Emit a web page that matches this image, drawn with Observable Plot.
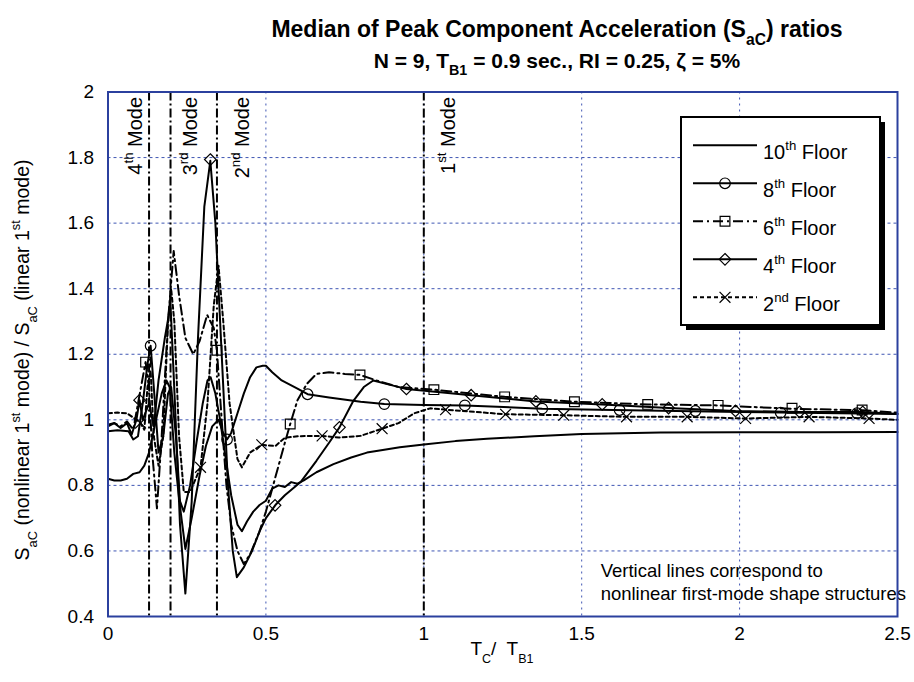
<!DOCTYPE html>
<html>
<head>
<meta charset="utf-8">
<script src="https://cdn.jsdelivr.net/npm/d3@7"></script>
<script src="https://cdn.jsdelivr.net/npm/@observablehq/plot@0.6"></script>
<style>
  html,body{margin:0;padding:0;background:#fff;}
  #wrap{position:relative;width:914px;height:682px;font-family:Arial,"Liberation Sans",Helvetica,sans-serif;color:#000;overflow:hidden;}
  .ttl{position:absolute;left:157px;width:800px;text-align:center;font-weight:bold;white-space:nowrap;}
  .ttl sub{font-size:68%;vertical-align:-0.5em;line-height:0;}
  #chart{position:absolute;left:0;top:0;}
</style>
</head>
<body>
<div id="wrap">
  <div id="chart"></div>
  <div class="ttl" style="top:15px;font-size:23px;line-height:28px;">Median of Peak Component Acceleration (S<sub>aC</sub>) ratios</div>
  <div class="ttl" style="top:48px;font-size:21px;line-height:26px;">N = 9, T<sub>B1</sub> = 0.9 sec., RI = 0.25, &zeta; = 5%</div>
</div>
<script>
// ---------- data ----------
const xTicks = [0, 0.5, 1, 1.5, 2, 2.5];
const yTicks = [0.4, 0.6, 0.8, 1, 1.2, 1.4, 1.6, 1.8, 2];

const floorLegend = ["10^{th} Floor", "8^{th} Floor", "6^{th} Floor", "4^{th} Floor", "2^{nd} Floor"];
const floorDash = [null, null, "10,4,2,4", null, "4,3"];
const floorSymbol = [null, "circle", "square2", "diamond2", "times"];
const floorSymbolR = [0, 5.3, 6.2, 5.2, 5];

const floor10 = [[0,0.82],[0.02,0.815],[0.04,0.815],[0.06,0.82],[0.08,0.835],[0.1,0.84],[0.115,0.86],[0.13,0.9],[0.15,0.99],[0.17,1.08],[0.185,1.12],[0.195,1.1],[0.21,0.9],[0.225,0.76],[0.24,0.72],[0.26,0.8],[0.28,0.93],[0.3,1.05],[0.315,1.12],[0.325,1.13],[0.34,1.08],[0.355,1.0],[0.37,0.9],[0.39,0.77],[0.41,0.68],[0.424,0.66],[0.44,0.69],[0.46,0.72],[0.48,0.74],[0.5,0.753],[0.52,0.79],[0.54,0.8],[0.56,0.795],[0.58,0.81],[0.6,0.805],[0.62,0.815],[0.66,0.84],[0.714,0.865],[0.77,0.885],[0.82,0.9],[0.87,0.908],[0.924,0.916],[1.0,0.925],[1.1,0.935],[1.2,0.942],[1.35,0.95],[1.5,0.957],[1.75,0.961],[2.0,0.962],[2.25,0.962],[2.5,0.963]];

const floor8 = [[0,0.965],[0.03,0.968],[0.065,0.965],[0.08,0.94],[0.095,0.95],[0.11,1.05],[0.125,1.17],[0.135,1.226],[0.145,1.1],[0.16,0.9],[0.175,0.95],[0.19,1.08],[0.2,1.1],[0.215,0.95],[0.23,0.72],[0.245,0.606],[0.265,0.7],[0.29,0.83],[0.31,0.92],[0.33,0.98],[0.35,1.0],[0.365,0.96],[0.377,0.94],[0.39,0.96],[0.41,1.02],[0.43,1.08],[0.45,1.13],[0.47,1.16],[0.49,1.165],[0.5,1.165],[0.52,1.145],[0.55,1.12],[0.6,1.095],[0.632,1.078],[0.7,1.068],[0.8,1.055],[0.875,1.048],[1.0,1.045],[1.13,1.044],[1.375,1.034],[1.6,1.03],[2.0,1.024],[2.5,1.018]];
const marks8 = [[0.135,1.226],[0.377,0.94],[0.632,1.078],[0.875,1.048],[1.13,1.044],[1.375,1.034],[1.62,1.03],[1.86,1.027],[2.13,1.022],[2.372,1.02]];

const floor6 = [[0,0.98],[0.02,0.99],[0.04,0.98],[0.06,0.995],[0.08,0.97],[0.095,1.05],[0.119,1.176],[0.13,1.1],[0.14,0.9],[0.155,0.73],[0.17,0.95],[0.19,1.3],[0.208,1.515],[0.225,1.38],[0.245,1.25],[0.27,1.2],[0.29,1.24],[0.314,1.32],[0.335,1.28],[0.345,1.21],[0.36,1.0],[0.375,0.8],[0.39,0.68],[0.41,0.6],[0.43,0.56],[0.45,0.59],[0.48,0.66],[0.5,0.72],[0.52,0.79],[0.54,0.86],[0.56,0.93],[0.577,0.987],[0.6,1.06],[0.63,1.11],[0.66,1.14],[0.7,1.145],[0.75,1.14],[0.798,1.137],[0.85,1.12],[0.92,1.1],[1.03,1.092],[1.256,1.07],[1.48,1.055],[1.71,1.047],[1.93,1.044],[2.16,1.034],[2.39,1.029],[2.5,1.022]];
const marks6 = [[0.119,1.176],[0.345,1.212],[0.577,0.987],[0.798,1.137],[1.032,1.092],[1.256,1.07],[1.477,1.055],[1.709,1.047],[1.932,1.044],[2.166,1.035],[2.388,1.03]];

const floor4 = [[0,0.985],[0.02,0.99],[0.04,0.975],[0.06,0.99],[0.075,0.955],[0.09,1.0],[0.1,1.06],[0.11,1.0],[0.13,1.05],[0.145,0.98],[0.16,1.12],[0.18,1.25],[0.198,1.35],[0.212,1.05],[0.228,0.68],[0.245,0.47],[0.265,0.75],[0.285,1.25],[0.305,1.65],[0.324,1.79],[0.34,1.6],[0.36,1.2],[0.38,0.8],[0.395,0.6],[0.408,0.52],[0.43,0.55],[0.456,0.6],[0.48,0.66],[0.5,0.70],[0.53,0.74],[0.56,0.77],[0.61,0.81],[0.66,0.875],[0.7,0.93],[0.733,0.977],[0.777,1.058],[0.81,1.1],[0.84,1.12],[0.9,1.105],[0.945,1.094],[1.15,1.075],[1.355,1.056],[1.565,1.047],[1.775,1.036],[1.987,1.027],[2.19,1.024],[2.39,1.024],[2.5,1.018]];
const marks4 = [[0.1,1.06],[0.324,1.794],[0.529,0.739],[0.733,0.977],[0.945,1.094],[1.15,1.075],[1.355,1.056],[1.565,1.047],[1.775,1.036],[1.987,1.027],[2.19,1.024],[2.39,1.024]];

const floor2 = [[0,1.02],[0.03,1.022],[0.06,1.02],[0.09,1.0],[0.103,0.99],[0.115,0.97],[0.125,1.1],[0.135,1.15],[0.145,0.95],[0.16,0.86],[0.175,0.95],[0.19,1.3],[0.2,1.4],[0.21,1.3],[0.225,0.95],[0.24,0.78],[0.26,0.78],[0.293,0.855],[0.315,1.05],[0.335,1.35],[0.35,1.47],[0.365,1.3],[0.385,1.05],[0.41,0.88],[0.424,0.855],[0.45,0.9],[0.487,0.924],[0.53,0.92],[0.56,0.945],[0.6,0.95],[0.678,0.951],[0.73,0.946],[0.8,0.951],[0.868,0.973],[0.92,0.99],[0.97,1.02],[1.02,1.035],[1.069,1.031],[1.259,1.017],[1.443,1.014],[1.642,1.009],[1.834,1.009],[2.019,1.004],[2.22,1.009],[2.41,1.004],[2.5,1.0]];
const marks2 = [[0.103,0.99],[0.293,0.855],[0.487,0.924],[0.678,0.951],[0.868,0.973],[1.069,1.031],[1.259,1.017],[1.443,1.014],[1.642,1.009],[1.834,1.009],[2.019,1.004],[2.22,1.009],[2.41,1.004]];

const modeX = [0.13, 0.198, 0.345, 1.0];
const modeLabelX = [0.087, 0.261, 0.425, 1.077];
const modeLabelText = ["4^{th} Mode", "3^{rd} Mode", "2^{nd} Mode", "1^{st} Mode"];
const modeLabelY = 1.985;

const noteText = ["Vertical lines correspond to", "nonlinear first-mode shape structures"];
const noteX = 1.56;
const noteY = [0.539, 0.469];

const yLabel = "S_{aC} (nonlinear 1^{st} mode) / S_{aC} (linear 1^{st} mode)";
const xLabel = "T_{C}/  T_{B1}";

// ---------- chart ----------
const series = [floor10, floor8, floor6, floor4, floor2];
const markerSets = [null, marks8, marks6, marks4, marks2];
const gridColor = "#3f56b3";

const lineMarks = series.map((s, i) => Plot.line(s, {
  x: d => d[0], y: d => d[1], stroke: "#000", strokeWidth: 2,
  strokeDasharray: floorDash[i] || undefined
}));
const dotMarks = markerSets.map((m, i) => m ? Plot.dot(m, {
  x: d => d[0], y: d => d[1], symbol: floorSymbol[i], r: floorSymbolR[i],
  stroke: "#000", fill: "none", strokeWidth: 1.2
}) : null).filter(Boolean);

const plot = Plot.plot({
  width: 914, height: 682,
  marginTop: 91.5, marginBottom: 66, marginLeft: 107.5, marginRight: 17,
  x: {domain: [0, 2.5]},
  y: {domain: [0.4, 2]},
  style: {fontFamily: "Arial, 'Liberation Sans', sans-serif", fontSize: "19px", color: "#000", background: "transparent", overflow: "visible"},
  marks: [
    Plot.gridY(yTicks, {stroke: gridColor, strokeOpacity: 1, strokeWidth: 1, strokeDasharray: "3,3"}),
    Plot.gridX(xTicks, {stroke: gridColor, strokeOpacity: 1, strokeWidth: 1, strokeDasharray: "2,4"}),
    Plot.ruleX(modeX, {stroke: "#000", strokeWidth: 2, strokeDasharray: "9,3,2,3"}),
    ...lineMarks,
    ...dotMarks,
    Plot.text(modeLabelText, {x: (d, i) => modeLabelX[i], y: () => modeLabelY, text: d => d, rotate: -90, textAnchor: "end", fontSize: 20, fill: "#000"}),
    Plot.text(noteText, {x: () => noteX, y: (d, i) => noteY[i], text: d => d, textAnchor: "start", fontSize: 18.5, fill: "#000"}),
    Plot.frame({stroke: "#2b409e", strokeWidth: 2}),
    Plot.axisX(xTicks, {tickSize: 0, tickPadding: 10, fontSize: 19, tickFormat: d => String(d), label: null}),
    Plot.axisY(yTicks, {tickSize: 0, tickPadding: 14, fontSize: 19, tickFormat: d => String(d), label: null})
  ]
});
document.getElementById("chart").appendChild(plot);

// ---------- rich text (super/subscripts) ----------
function setRich(el, markup, fs) {
  const sel = d3.select(el);
  sel.text(null);
  const parts = markup.split(/(\^\{[^}]*\}|_\{[^}]*\})/).filter(s => s.length);
  let shift = 0;
  for (const p of parts) {
    let kind = "", s = p;
    if (p.startsWith("^{")) { kind = "sup"; s = p.slice(2, -1); }
    else if (p.startsWith("_{")) { kind = "sub"; s = p.slice(2, -1); }
    const target = kind === "sup" ? -0.45 : kind === "sub" ? 0.42 : 0;
    const t = sel.append("tspan").text(s);
    const dy = (target - shift) * fs;
    if (dy) t.attr("dy", dy.toFixed(2));
    if (kind) t.attr("font-size", (fs * 0.66).toFixed(1));
    shift = target;
  }
}
const svg = d3.select(plot);
svg.selectAll("text").each(function () {
  const s = this.textContent;
  if (s.includes("^{") || s.includes("_{")) {
    const fs = parseFloat(d3.select(this.parentNode).attr("font-size")) || 20;
    setRich(this, s, fs);
  }
});

// axis titles
const yl = svg.append("text").attr("transform", "translate(22,360) rotate(-90)").attr("text-anchor", "middle")
  .attr("dy", "0.35em").attr("font-size", 19.5).attr("fill", "#000");
setRich(yl.node(), yLabel, 19.5);
const xl = svg.append("text").attr("x", 502).attr("y", 655).attr("text-anchor", "middle")
  .attr("font-size", 19).attr("fill", "#000");
setRich(xl.node(), xLabel, 19);

// ---------- legend ----------
const lg = svg.append("g");
const bx = 681, by = 117, bw = 199, bh = 208;
lg.append("rect").attr("x", bx + 5).attr("y", by + 5).attr("width", bw).attr("height", bh).attr("fill", "#000");
lg.append("rect").attr("x", bx).attr("y", by).attr("width", bw).attr("height", bh).attr("fill", "#fff").attr("stroke", "#000").attr("stroke-width", 2);
const symTypes = {circle: d3.symbolCircle, square2: d3.symbolSquare2, diamond2: d3.symbolDiamond2, times: d3.symbolTimes};
floorLegend.forEach((name, i) => {
  const cy = 152.3 + i * 38;
  const ly = cy - 7;
  const ln = lg.append("line").attr("x1", 693).attr("x2", 757).attr("y1", ly).attr("y2", ly)
    .attr("stroke", "#000").attr("stroke-width", 2);
  if (floorDash[i]) ln.attr("stroke-dasharray", floorDash[i]);
  if (floorSymbol[i]) {
    const r = floorSymbolR[i];
    lg.append("path").attr("transform", `translate(725,${ly})`)
      .attr("d", d3.symbol(symTypes[floorSymbol[i]], Math.PI * r * r)())
      .attr("fill", "none").attr("stroke", "#000").attr("stroke-width", 1.2);
  }
  const t = lg.append("text").attr("x", 763).attr("y", cy).attr("dy", "0.35em")
    .attr("text-anchor", "start").attr("font-size", 20).attr("fill", "#000");
  setRich(t.node(), name, 20);
});
</script>
</body>
</html>
